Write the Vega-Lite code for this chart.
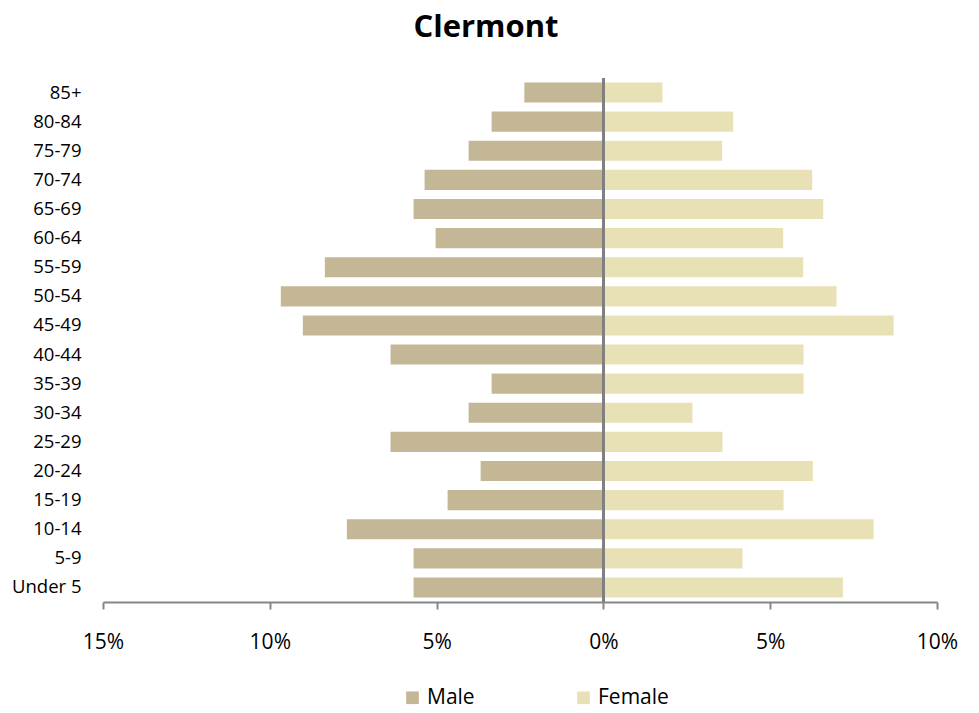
{
  "$schema": "https://vega.github.io/schema/vega-lite/v6.json",
  "autosize": {"type": "none"},
  "width": 834,
  "height": 524,
  "padding": {"left": 103, "top": 78, "right": 42, "bottom": 111},
  "background": "white",
  "title": {"text": "Clermont", "font": "Open Sans", "fontSize": 31, "fontWeight": "bold", "color": "#000000", "offset": 33, "dx": -34},
  "config": {"view": {"stroke": null}},
  "data": {"values": [
    {"age": "85+", "sex": "Male", "value": -2.37},
    {"age": "80-84", "sex": "Male", "value": -3.35},
    {"age": "75-79", "sex": "Male", "value": -4.04},
    {"age": "70-74", "sex": "Male", "value": -5.36},
    {"age": "65-69", "sex": "Male", "value": -5.69},
    {"age": "60-64", "sex": "Male", "value": -5.03},
    {"age": "55-59", "sex": "Male", "value": -8.35},
    {"age": "50-54", "sex": "Male", "value": -9.67},
    {"age": "45-49", "sex": "Male", "value": -9.01},
    {"age": "40-44", "sex": "Male", "value": -6.38},
    {"age": "35-39", "sex": "Male", "value": -3.35},
    {"age": "30-34", "sex": "Male", "value": -4.04},
    {"age": "25-29", "sex": "Male", "value": -6.38},
    {"age": "20-24", "sex": "Male", "value": -3.68},
    {"age": "15-19", "sex": "Male", "value": -4.67},
    {"age": "10-14", "sex": "Male", "value": -7.69},
    {"age": "5-9", "sex": "Male", "value": -5.69},
    {"age": "Under 5", "sex": "Male", "value": -5.69},
    {"age": "85+", "sex": "Female", "value": 1.77},
    {"age": "80-84", "sex": "Female", "value": 3.89},
    {"age": "75-79", "sex": "Female", "value": 3.56},
    {"age": "70-74", "sex": "Female", "value": 6.26},
    {"age": "65-69", "sex": "Female", "value": 6.59},
    {"age": "60-64", "sex": "Female", "value": 5.39},
    {"age": "55-59", "sex": "Female", "value": 5.99},
    {"age": "50-54", "sex": "Female", "value": 6.99},
    {"age": "45-49", "sex": "Female", "value": 8.7},
    {"age": "40-44", "sex": "Female", "value": 6.0},
    {"age": "35-39", "sex": "Female", "value": 6.0},
    {"age": "30-34", "sex": "Female", "value": 2.67},
    {"age": "25-29", "sex": "Female", "value": 3.57},
    {"age": "20-24", "sex": "Female", "value": 6.28},
    {"age": "15-19", "sex": "Female", "value": 5.4},
    {"age": "10-14", "sex": "Female", "value": 8.1},
    {"age": "5-9", "sex": "Female", "value": 4.17},
    {"age": "Under 5", "sex": "Female", "value": 7.18}
  ]},
  "layer": [
    {
      "mark": {"type": "bar"},
      "encoding": {
        "y": {
          "field": "age", "type": "nominal",
          "sort": ["85+", "80-84", "75-79", "70-74", "65-69", "60-64", "55-59", "50-54", "45-49", "40-44", "35-39", "30-34", "25-29", "20-24", "15-19", "10-14", "5-9", "Under 5"],
          "scale": {"paddingInner": 0.31, "paddingOuter": 0.155},
          "axis": {"title": null, "domain": false, "ticks": false, "labelPadding": 22, "labelFont": "Open Sans", "labelFontSize": 18.5, "labelColor": "#000000"}
        },
        "x": {
          "field": "value", "type": "quantitative",
          "scale": {"domain": [-15, 10], "nice": false, "zero": false},
          "axis": {"title": null, "grid": false, "values": [-15, -10, -5, 0, 5, 10], "labelExpr": "abs(datum.value) + '%'", "labelFont": "Open Sans", "labelFontSize": 21, "labelColor": "#000000", "labelPadding": 22, "domainColor": "#868686", "domainWidth": 2, "tickColor": "#868686", "tickWidth": 2, "tickSize": 7, "labelFlush": false}
        },
        "color": {
          "field": "sex", "type": "nominal",
          "scale": {"domain": ["Male", "Female"], "range": ["#C4B796", "#E9E1B6"]},
          "legend": {"title": null, "orient": "none", "legendX": 299, "legendY": 609, "direction": "horizontal", "symbolType": "square", "symbolSize": 160, "symbolStrokeWidth": 0, "labelFont": "Open Sans", "labelFontSize": 21, "labelColor": "#000000", "columnPadding": 98}
        }
      }
    },
    {
      "mark": {"type": "rule", "color": "#808080", "strokeWidth": 1.5},
      "encoding": {"x": {"datum": 0}}
    }
  ]
}
